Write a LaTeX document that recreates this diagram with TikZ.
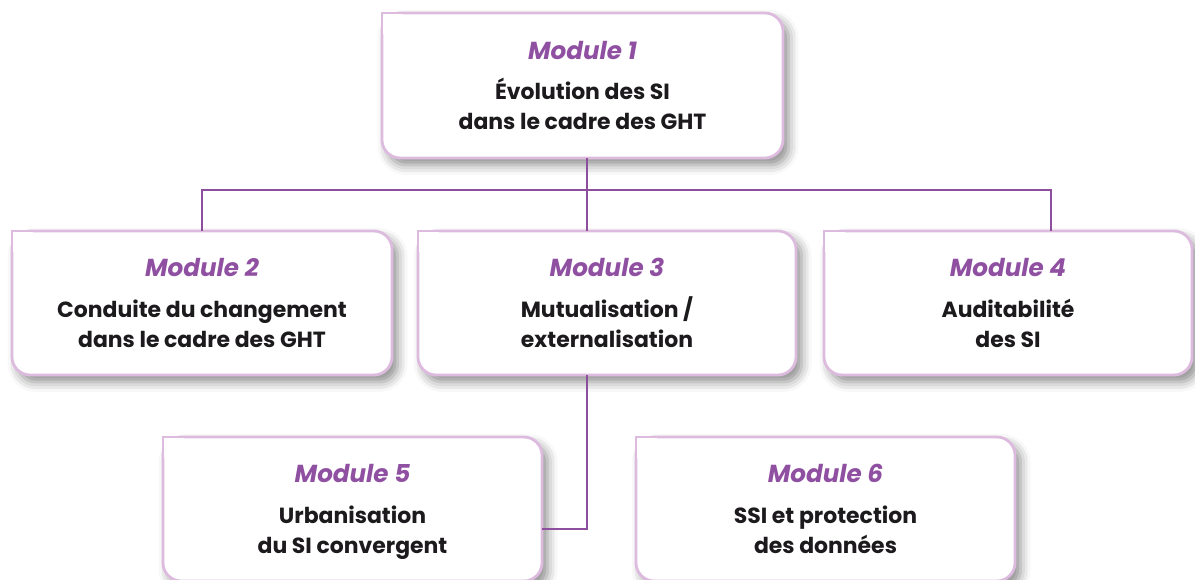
\documentclass[tikz,border=0pt]{standalone}
\usepackage{fontspec}
\setmainfont{Poppins}
\usepackage{tikz}
\usetikzlibrary{positioning,shadows.blur}
\definecolor{boxpink}{HTML}{DDBBDF}
\definecolor{linkpurple}{HTML}{8D4E9D}
\definecolor{modpurple}{HTML}{9050A2}
\definecolor{bodyblack}{HTML}{1C1A1C}
\newcommand{\modtitle}[1]{{\itshape\fontsize{17.5}{21.3}\selectfont\color{modpurple}#1}\\[7.5pt]}

\begin{document}
\begin{tikzpicture}[x=0.025cm,y=-0.025cm,
  modbox/.style={draw=boxpink, line width=2pt, fill=white, rounded corners=13pt,
    outer sep=0pt, align=center, text=bodyblack, text depth=-5pt,
    font=\fontsize{15.6}{21.3}\selectfont\bfseries,
    blur shadow={shadow xshift=4pt, shadow yshift=-5pt, shadow blur radius=7pt, shadow opacity=45}},
  cornerline/.style={draw=boxpink, line width=2pt},
  link/.style={draw=linkpurple, line width=2.1pt}]
\useasboundingbox (0,0) rectangle (1195,579);
\node[modbox, minimum width=10.025cm, minimum height=3.625cm] (m1) at (582.5,85.5)
  {\modtitle{Module 1}Évolution des SI\\dans le cadre des GHT};
\node[modbox, minimum width=9.5cm, minimum height=3.6cm] (m2) at (202,303)
  {\modtitle{Module 2}Conduite du changement\\dans le cadre des GHT};
\node[modbox, minimum width=9.45cm, minimum height=3.6cm] (m3) at (607,303)
  {\modtitle{Module 3}Mutualisation /\\externalisation};
\node[modbox, minimum width=9.2cm, minimum height=3.6cm] (m4) at (1008,303)
  {\modtitle{Module 4}Auditabilité\\des SI};
\node[modbox, minimum width=9.475cm, minimum height=3.6cm] (m5) at (352.5,509)
  {\modtitle{Module 5}Urbanisation\\du SI convergent};
\node[modbox, minimum width=9.475cm, minimum height=3.6cm] (m6) at (825.5,509)
  {\modtitle{Module 6}SSI et protection\\des données};
% square top-left corners
\foreach \n in {m1,m2,m3,m4,m5,m6}{
  \fill[white] ([xshift=-0.2pt,yshift=0.2pt]\n.north west) rectangle ([xshift=15pt,yshift=-15pt]\n.north west);
  \draw[cornerline] ([yshift=-16pt]\n.north west) -- (\n.north west) -- ([xshift=16pt]\n.north west);
}
% connectors
\coordinate (hub) at (587,190);
\coordinate (rdrop) at (1051,190);
\coordinate (bend) at (587,529);
\draw[link] (m1.south -| hub) -- (m3.north -| hub);
\draw[link] (m2.north) |- (rdrop) -- (rdrop |- m4.north);
\draw[link] (m3.south -| bend) |- (m5.east |- bend);
\end{tikzpicture}
\end{document}
